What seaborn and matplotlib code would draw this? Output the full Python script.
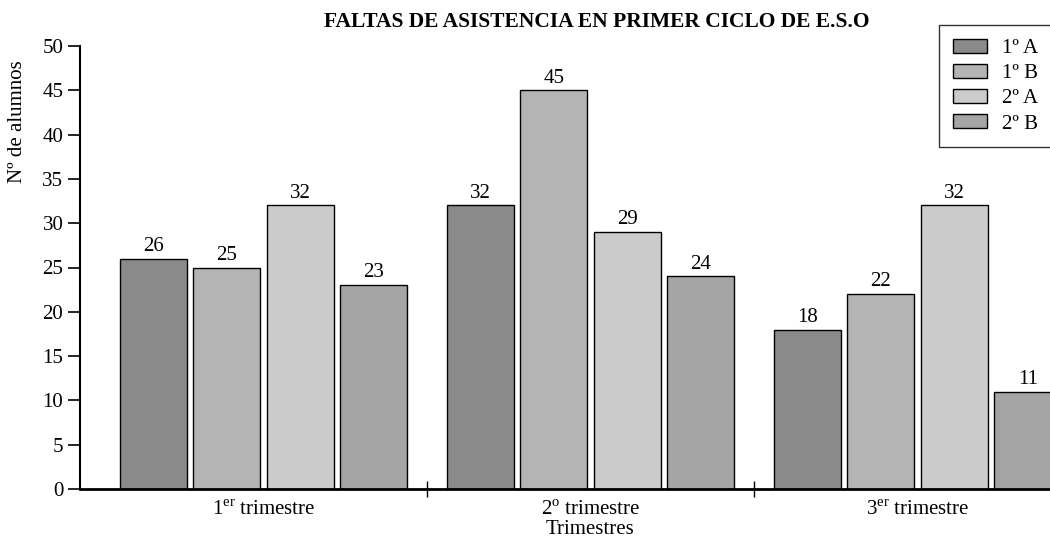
import matplotlib
import pandas as pd
import seaborn as sns
from matplotlib import pyplot as plt
from matplotlib.patches import Rectangle

trimestres = ["1er", "2o", "3er"]
grupos = ["1º A", "1º B", "2º A", "2º B"]
faltas_1a = [26, 32, 18]
faltas_1b = [25, 45, 22]
faltas_2a = [32, 29, 32]
faltas_2b = [23, 24, 11]
tick_labels = [
    r"1$^{\mathrm{er}}$ trimestre",
    r"2$^{\mathrm{o}}$ trimestre",
    r"3$^{\mathrm{er}}$ trimestre",
]

colors = {
    "1º A": "#8a8a8a",
    "1º B": "#b4b4b4",
    "2º A": "#cbcbcb",
    "2º B": "#a5a5a5",
}

rows = []
for grupo, vals in zip(grupos, [faltas_1a, faltas_1b, faltas_2a, faltas_2b]):
    for trim, v in zip(trimestres, vals):
        rows.append({"trimestre": trim, "grupo": grupo, "faltas": v})
df = pd.DataFrame(rows)

sns.set_style("ticks")
plt.rcParams["font.family"] = ["Liberation Serif", "DejaVu Serif"]
plt.rcParams["mathtext.fontset"] = "custom"
plt.rcParams["mathtext.rm"] = "Liberation Serif"
plt.rcParams["text.color"] = "black"
plt.rcParams["axes.labelcolor"] = "black"
plt.rcParams["xtick.color"] = "black"
plt.rcParams["ytick.color"] = "black"

FS = 15

fig = plt.figure(figsize=(10.5, 5.41), dpi=100)
ax = fig.add_axes([80 / 1050, 52 / 541, 1021 / 1050, 443 / 541])

sns.barplot(
    data=df,
    x="trimestre",
    y="faltas",
    hue="grupo",
    order=trimestres,
    hue_order=grupos,
    palette=colors,
    width=0.9,
    gap=0.09,
    edgecolor="black",
    linewidth=1.0,
    saturation=1,
    legend=False,
    ax=ax,
)

for container in ax.containers:
    ax.bar_label(container, padding=2, fontsize=FS)

ax.set_xlim(-0.561, 2.561)
ax.set_ylim(0, 50)
ax.set_yticks(range(0, 51, 5))
ax.set_xticks(range(3))
ax.set_xticklabels(tick_labels)
ax.set_xticks([0.5, 1.5], minor=True)
ax.tick_params(axis="x", which="major", length=0, labelsize=FS, pad=8)
ax.tick_params(axis="x", which="minor", length=12, direction="inout", width=1.0)
ax.tick_params(axis="y", length=9, width=1.2, labelsize=FS, pad=3)
for side in ["top", "right"]:
    ax.spines[side].set_visible(False)
ax.spines["left"].set_linewidth(1.5)
ax.spines["bottom"].set_linewidth(2.0)
ax.spines["left"].set_color("black")
ax.spines["bottom"].set_color("black")

ax.set_ylabel("")
ax.set_xlabel("")
fig.text(590 / 1050, 1 - 529 / 541, "Trimestres", ha="center", va="center", fontsize=FS)
fig.text(18 / 1050, 1 - 122 / 541, "Nº de alumnos", rotation=90,
         ha="center", va="center", fontsize=FS)
fig.text(597 / 1050, 1 - 22 / 541, "FALTAS DE ASISTENCIA EN PRIMER CICLO DE E.S.O",
         ha="center", va="center", fontsize=15.5, fontweight="bold")

handles = [Rectangle((0, 0), 1, 1, fc=colors[g], ec="black", lw=1.0, label=g) for g in grupos]
leg = fig.legend(
    handles=handles,
    loc="upper left",
    bbox_to_anchor=(939 / 1050, 1 - 25 / 541),
    borderaxespad=0,
    fontsize=FS,
    frameon=True,
    fancybox=False,
    handlelength=1.65,
    handleheight=0.67,
    handletextpad=0.7,
    labelspacing=0.28,
    borderpad=0.65,
)
leg.get_frame().set_edgecolor("black")
leg.get_frame().set_linewidth(1.0)

fig.savefig("out.png", dpi=100)
